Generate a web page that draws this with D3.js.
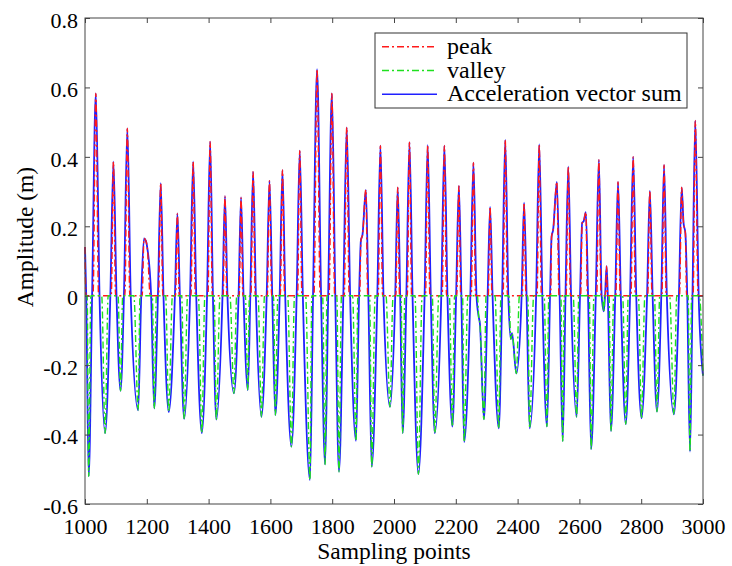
<!DOCTYPE html>
<html>
<head>
<meta charset="utf-8">
<script src="https://cdn.jsdelivr.net/npm/d3@7"></script>
<style>
  html, body { margin: 0; padding: 0; background: #fff; }
  svg { display: block; }
  svg text { font-family: 'Liberation Serif', 'Times New Roman', Times, serif; fill: #000; }
</style>
</head>
<body>
<svg id="chart" width="732" height="566"></svg>
<script>
// ---------- data ----------
const xTicks = [1000, 1200, 1400, 1600, 1800, 2000, 2200, 2400, 2600, 2800, 3000];
const yTicks = [-0.6, -0.4, -0.2, 0, 0.2, 0.4, 0.6, 0.8];
const yTickLabels = ["-0.6", "-0.4", "-0.2", "0", "0.2", "0.4", "0.6", "0.8"];
const seriesNames = ["peak", "valley", "Acceleration vector sum"];

// Acceleration vector sum: sampling points and amplitude (m)
const accelX = [
  1000, 1004, 1012, 1023, 1035, 1047, 1065, 1082, 1092, 1102,
  1115, 1126, 1137, 1148, 1172, 1182, 1191, 1197, 1202, 1214,
  1224, 1236, 1245, 1254, 1271, 1291, 1299, 1307, 1321, 1340,
  1350, 1360, 1378, 1395, 1405, 1414, 1425, 1445, 1453, 1461,
  1482, 1497, 1505, 1513, 1527, 1535, 1544, 1553, 1571, 1588,
  1597, 1606, 1616, 1630, 1639, 1648, 1668, 1685, 1695, 1705,
  1728, 1738, 1751, 1764, 1777, 1787, 1799, 1810, 1822, 1836,
  1847, 1858, 1877, 1887, 1893, 1898, 1909, 1917, 1928, 1946,
  1956, 1966, 1987, 2004, 2012, 2020, 2028, 2040, 2050, 2060,
  2079, 2099, 2109, 2119, 2132, 2153, 2163, 2173, 2189, 2201,
  2210, 2218, 2227, 2247, 2257, 2267, 2274, 2278, 2291, 2303,
  2311, 2319, 2339, 2350, 2360, 2370, 2378, 2382, 2396, 2413,
  2421, 2429, 2439, 2460, 2470, 2480, 2495, 2505, 2510, 2515,
  2527, 2536, 2546, 2555, 2564, 2573, 2591, 2602, 2609, 2614,
  2621, 2628, 2638, 2653, 2663, 2672, 2679, 2683, 2688, 2692,
  2702, 2716, 2725, 2734, 2750, 2764, 2774, 2784, 2801, 2819,
  2828, 2837, 2851, 2865, 2874, 2883, 2906, 2922, 2931, 2937,
  2943, 2949, 2958, 2966, 2975, 2986, 3000
];
const accelY = [
  0.14, 0, -0.52, 0, 0.583, 0, -0.396, 0, 0.386, 0,
  -0.274, 0, 0.482, 0, -0.33, 0, 0.165, 0.158, 0.135, 0,
  -0.325, 0, 0.324, 0, -0.335, 0, 0.237, 0, -0.355, 0,
  0.386, 0, -0.396, 0, 0.444, 0, -0.357, 0, 0.287, 0,
  -0.281, 0, 0.283, 0, -0.272, 0, 0.357, 0, -0.349, 0,
  0.331, 0, -0.344, 0, 0.362, 0, -0.435, 0, 0.418, 0,
  -0.531, 0, 0.653, 0, -0.486, 0, 0.583, 0, -0.507, 0,
  0.485, 0, -0.418, 0, 0.16, 0.175, 0.305, 0, -0.493, 0,
  0.432, 0, -0.32, 0, 0.312, 0, -0.396, 0, 0.442, 0,
  -0.514, 0, 0.434, 0, -0.396, 0, 0.432, 0, -0.377, 0,
  0.316, 0, -0.422, 0, 0.383, 0, -0.06, -0.08, -0.356, 0,
  0.256, 0, -0.382, 0, 0.449, 0, -0.125, -0.108, -0.224, 0,
  0.268, 0, -0.382, 0, 0.436, 0, -0.377, 0, 0.17, 0.19,
  0.328, 0, -0.419, 0, 0.372, 0, -0.349, 0, 0.21, 0.215,
  0.241, 0, -0.442, 0, 0.391, 0, -0.045, 0, 0.085, 0,
  -0.39, 0, 0.328, 0, -0.37, 0, 0.40, 0, -0.353, 0,
  0.303, 0, -0.334, 0, 0.377, 0, -0.342, 0, 0.312, 0.21,
  0.18, 0, -0.449, 0, 0.504, 0, -0.23
];

// peak trace: sampling points and amplitude (m), one group per peak
const peakX = [
  1000, 1003,
  1026, 1035, 1044,   1085, 1092, 1099,   1129, 1137, 1145,
  1185, 1191, 1197, 1202, 1211,
  1238, 1245, 1252,   1293, 1299, 1305,   1343, 1350, 1357,
  1398, 1405, 1412,   1447, 1453, 1459,   1499, 1505, 1511,
  1537, 1544, 1551,   1590, 1597, 1604,   1632, 1639, 1646,
  1688, 1695, 1702,   1741, 1751, 1761,   1790, 1799, 1808,
  1839, 1847, 1855,
  1889, 1893, 1898, 1909, 1915,
  1949, 1956, 1963,   2006, 2012, 2018,   2043, 2050, 2057,
  2102, 2109, 2116,   2156, 2163, 2170,   2203, 2210, 2216,
  2250, 2257, 2264,   2305, 2311, 2317,   2353, 2360, 2367,
  2415, 2421, 2427,   2463, 2470, 2477,
  2507, 2510, 2515, 2527, 2534,
  2557, 2564, 2571,
  2604, 2609, 2614, 2621, 2626,
  2656, 2663, 2670,   2684, 2688, 2691,   2718, 2725, 2732,
  2767, 2774, 2781,   2821, 2828, 2835,   2867, 2874, 2881,
  2924, 2931, 2937, 2943, 2947,
  2968, 2975, 2984,
  3000
];
const peakY = [
  0.14, 0,
  0, 0.583, 0,        0, 0.386, 0,        0, 0.482, 0,
  0, 0.165, 0.158, 0.135, 0,
  0, 0.324, 0,        0, 0.237, 0,        0, 0.386, 0,
  0, 0.444, 0,        0, 0.287, 0,        0, 0.283, 0,
  0, 0.357, 0,        0, 0.331, 0,        0, 0.362, 0,
  0, 0.418, 0,        0, 0.653, 0,        0, 0.583, 0,
  0, 0.485, 0,
  0, 0.16, 0.175, 0.305, 0,
  0, 0.432, 0,        0, 0.312, 0,        0, 0.442, 0,
  0, 0.434, 0,        0, 0.432, 0,        0, 0.316, 0,
  0, 0.383, 0,        0, 0.256, 0,        0, 0.449, 0,
  0, 0.268, 0,        0, 0.436, 0,
  0, 0.17, 0.19, 0.328, 0,
  0, 0.372, 0,
  0, 0.21, 0.215, 0.241, 0,
  0, 0.391, 0,        0, 0.085, 0,        0, 0.328, 0,
  0, 0.40, 0,         0, 0.303, 0,        0, 0.377, 0,
  0, 0.312, 0.21, 0.18, 0,
  0, 0.504, 0,
  0
];

// valley trace: sampling points and amplitude (m), one group per valley
const valleyX = [
  1000,
  1007, 1012, 1019,   1054, 1065, 1075,   1107, 1115, 1122,
  1158, 1172, 1178,   1218, 1224, 1231,   1261, 1271, 1283,
  1313, 1321, 1332,   1367, 1378, 1388,   1418, 1425, 1437,
  1469, 1482, 1491,   1519, 1527, 1532,   1560, 1571, 1581,
  1610, 1616, 1624,   1656, 1668, 1678,   1714, 1728, 1734,
  1769, 1777, 1783,   1815, 1822, 1830,   1866, 1877, 1883,
  1921, 1928, 1939,   1974, 1987, 1997,   2023, 2028, 2035,
  2068, 2079, 2091,   2124, 2132, 2145,   2179, 2189, 2196,
  2222, 2227, 2239,
  2270, 2274, 2278, 2291, 2298,
  2327, 2339, 2346,
  2372, 2378, 2382, 2396, 2406,
  2433, 2439, 2452,   2486, 2495, 2501,   2540, 2546, 2551,
  2580, 2591, 2598,   2632, 2638, 2647,   2674, 2679, 2682,
  2696, 2702, 2711,   2740, 2750, 2758,   2791, 2801, 2812,
  2843, 2851, 2860,   2892, 2906, 2915,   2952, 2958, 2963,
  2988, 3000
];
const valleyY = [
  0,
  0, -0.52, 0,        0, -0.396, 0,       0, -0.274, 0,
  0, -0.33, 0,        0, -0.325, 0,       0, -0.335, 0,
  0, -0.355, 0,       0, -0.396, 0,       0, -0.357, 0,
  0, -0.281, 0,       0, -0.272, 0,       0, -0.349, 0,
  0, -0.344, 0,       0, -0.435, 0,       0, -0.531, 0,
  0, -0.486, 0,       0, -0.507, 0,       0, -0.418, 0,
  0, -0.493, 0,       0, -0.32, 0,        0, -0.396, 0,
  0, -0.514, 0,       0, -0.396, 0,       0, -0.377, 0,
  0, -0.422, 0,
  0, -0.06, -0.08, -0.356, 0,
  0, -0.382, 0,
  0, -0.125, -0.108, -0.224, 0,
  0, -0.382, 0,       0, -0.377, 0,       0, -0.419, 0,
  0, -0.349, 0,       0, -0.442, 0,       0, -0.045, 0,
  0, -0.39, 0,        0, -0.37, 0,        0, -0.353, 0,
  0, -0.334, 0,       0, -0.342, 0,       0, -0.449, 0,
  0, -0.23
];

// ---------- chart ----------
const FONT = "'Liberation Serif', 'Times New Roman', Times, serif";
const svg = d3.select("#chart");
const L = 85, R = 703, T = 18, B = 504;
const x = d3.scaleLinear().domain([1000, 3000]).range([L, R]);
const y = d3.scaleLinear().domain([-0.6, 0.8]).range([B, T]);

const line = (xs, ys) => d3.line()
  .x((d, i) => x(xs[i]))
  .y((d) => y(d))
  .curve(d3.curveMonotoneX)(ys);

const plot = svg.append("g");
plot.append("path").attr("d", line(accelX, accelY))
  .attr("fill", "none").attr("stroke", "#2020ff").attr("stroke-width", 1.8)
  .attr("stroke-linejoin", "round");
plot.append("path").attr("d", line(peakX, peakY))
  .attr("fill", "none").attr("stroke", "#ff1a1a").attr("stroke-width", 1.4)
  .attr("stroke-dasharray", "7,3,2,3");
plot.append("path").attr("d", line(valleyX, valleyY))
  .attr("fill", "none").attr("stroke", "#1ee01e").attr("stroke-width", 1.4)
  .attr("stroke-dasharray", "7,3,2,3");

// axes (MATLAB style inward ticks on all sides)
const axisColor = "#444";
const fmtY = (d) => yTickLabels[yTicks.indexOf(d)];

const gx = svg.append("g").attr("transform", `translate(0,${B})`)
  .call(d3.axisBottom(x).tickValues(xTicks).tickFormat(d3.format("d"))
    .tickSizeInner(-5).tickSizeOuter(0).tickPadding(14));
const gxt = svg.append("g").attr("transform", `translate(0,${T})`)
  .call(d3.axisTop(x).tickValues(xTicks).tickFormat("")
    .tickSizeInner(-5).tickSizeOuter(0));
const gy = svg.append("g").attr("transform", `translate(${L},0)`)
  .call(d3.axisLeft(y).tickValues(yTicks).tickFormat(fmtY)
    .tickSizeInner(-5).tickSizeOuter(0).tickPadding(7));
const gyr = svg.append("g").attr("transform", `translate(${R},0)`)
  .call(d3.axisRight(y).tickValues(yTicks).tickFormat("")
    .tickSizeInner(-5).tickSizeOuter(0));

[gx, gxt, gy, gyr].forEach(g => {
  g.attr("font-family", FONT);
  g.select(".domain").remove();
  g.selectAll(".tick line").attr("stroke", axisColor);
  g.selectAll("text").attr("font-family", FONT)
    .attr("font-size", 22).attr("fill", "#000");
});
gy.selectAll(".tick text").attr("dy", "0.42em");

svg.append("rect").attr("x", L).attr("y", T).attr("width", R - L).attr("height", B - T)
  .attr("fill", "none").attr("stroke", axisColor).attr("stroke-width", 1);

// axis titles
svg.append("text").attr("x", (L + R) / 2).attr("y", 559)
  .attr("text-anchor", "middle").attr("font-family", FONT).attr("font-size", 23.5)
  .text("Sampling points");
svg.append("text").attr("transform", "translate(33,237) rotate(-90)")
  .attr("text-anchor", "middle").attr("font-family", FONT).attr("font-size", 23.5)
  .text("Amplitude (m)");

// legend
const lg = svg.append("g");
lg.append("rect").attr("x", 375).attr("y", 33).attr("width", 312).attr("height", 75)
  .attr("fill", "#fff").attr("stroke", "#333").attr("stroke-width", 1);
const legendStyles = [
  { color: "#ff1a1a", dash: "7,3,2,3", w: 1.4 },
  { color: "#1ee01e", dash: "7,3,2,3", w: 1.4 },
  { color: "#2020ff", dash: null, w: 1.6 }
];
seriesNames.forEach((name, i) => {
  const yy = 46.7 + i * 23.8;
  lg.append("line").attr("x1", 382).attr("x2", 437).attr("y1", yy).attr("y2", yy)
    .attr("stroke", legendStyles[i].color).attr("stroke-width", legendStyles[i].w)
    .attr("stroke-dasharray", legendStyles[i].dash);
  lg.append("text").attr("x", 447).attr("y", yy + 7).attr("font-family", FONT)
    .attr("font-size", 24).text(name);
});
</script>
</body>
</html>
